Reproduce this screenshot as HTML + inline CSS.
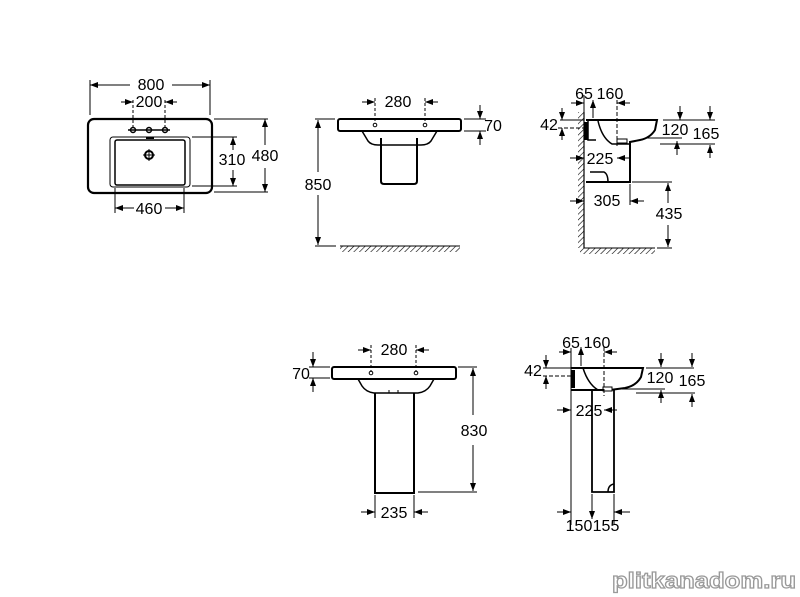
<!DOCTYPE html>
<html><head><meta charset="utf-8"><style>
html,body{margin:0;padding:0;background:#fff;}
svg{display:block;}
text{font-family:"Liberation Sans",Arial,sans-serif;font-size:16px;fill:#000;}
</style></head><body>
<svg width="800" height="597" viewBox="0 0 800 597" xmlns="http://www.w3.org/2000/svg">
<defs>
<marker id="a" markerWidth="8" markerHeight="6" refX="8" refY="3" orient="auto" markerUnits="userSpaceOnUse"><path d="M0,0 L8,3 L0,6 z" fill="#000"/></marker>
<pattern id="h" width="4" height="4" patternUnits="userSpaceOnUse" patternTransform="rotate(45)"><line x1="0" y1="0" x2="0" y2="4" stroke="#000" stroke-width="1.2"/></pattern>
</defs>
<g stroke="#000" fill="none" stroke-width="1">
<!-- TOP LEFT: plan view -->
<rect x="88" y="119" width="124" height="74" rx="6" stroke-width="2.2"/>
<rect x="110" y="137" width="80" height="50" rx="3" stroke-width="1"/>
<rect x="115" y="140" width="70" height="45" rx="2" stroke-width="1.5"/>
<line x1="146" y1="138" x2="154" y2="138" stroke-width="2"/>
<circle cx="149" cy="155" r="4" stroke-width="2"/><line x1="143" y1="155" x2="155" y2="155"/><line x1="149" y1="149" x2="149" y2="161"/>
<g stroke-width="1.5"><circle cx="133" cy="130" r="2.5"/><circle cx="149" cy="130" r="2.5"/><circle cx="165" cy="130" r="2.5"/>
<line x1="128" y1="130" x2="170" y2="130"/></g>
<line x1="90" y1="80" x2="90" y2="115"/><line x1="210" y1="80" x2="210" y2="115"/>
<line x1="130" y1="85" x2="90" y2="85" marker-end="url(#a)"/><line x1="172" y1="85" x2="210" y2="85" marker-end="url(#a)"/>
<line x1="133" y1="100" x2="133" y2="127" stroke-dasharray="3,2"/><line x1="165" y1="100" x2="165" y2="127" stroke-dasharray="3,2"/>
<line x1="121" y1="102" x2="133" y2="102" marker-end="url(#a)"/><line x1="177" y1="102" x2="165" y2="102" marker-end="url(#a)"/>
<line x1="192" y1="137" x2="237" y2="137"/><line x1="192" y1="186" x2="237" y2="186"/>
<line x1="233" y1="150" x2="233" y2="137" marker-end="url(#a)"/><line x1="233" y1="170" x2="233" y2="186" marker-end="url(#a)"/>
<line x1="214" y1="119" x2="268" y2="119"/><line x1="214" y1="192" x2="268" y2="192"/>
<line x1="265" y1="145" x2="265" y2="119" marker-end="url(#a)"/><line x1="265" y1="168" x2="265" y2="192" marker-end="url(#a)"/>
<line x1="115" y1="188" x2="115" y2="213"/><line x1="184" y1="188" x2="184" y2="213"/>
<line x1="134" y1="208" x2="115" y2="208" marker-end="url(#a)"/><line x1="165" y1="208" x2="184" y2="208" marker-end="url(#a)"/>

<!-- TOP MIDDLE -->
<rect x="338" y="119" width="123" height="12" rx="2" stroke-width="2"/>
<path d="M362,131 L368,141 Q371,145 378,145 L421,145 Q428,145 431,141 L437,131" stroke-width="1.5"/>
<path d="M381,138 L381,181 Q381,184 384,184 L414,184 Q417,184 417,181 L417,138" stroke-width="2"/>
<circle cx="375" cy="125" r="1.8"/><circle cx="425" cy="125" r="1.8"/>
<line x1="375" y1="98" x2="375" y2="122" stroke-dasharray="3,2"/><line x1="425" y1="98" x2="425" y2="122" stroke-dasharray="3,2"/>
<line x1="362" y1="102" x2="375" y2="102" marker-end="url(#a)"/><line x1="438" y1="102" x2="425" y2="102" marker-end="url(#a)"/>
<line x1="315" y1="119" x2="335" y2="119"/><line x1="315" y1="246" x2="336" y2="246"/>
<line x1="318" y1="172" x2="318" y2="120" marker-end="url(#a)"/><line x1="318" y1="195" x2="318" y2="245" marker-end="url(#a)"/>
<rect x="340" y="246" width="120" height="6" fill="url(#h)" stroke="none"/><line x1="340" y1="246" x2="460" y2="246"/>
<line x1="464" y1="119" x2="486" y2="119"/><line x1="464" y1="131" x2="486" y2="131"/>
<line x1="480" y1="105" x2="480" y2="119" marker-end="url(#a)"/><line x1="480" y1="145" x2="480" y2="131" marker-end="url(#a)"/>

<!-- TOP RIGHT -->
<rect x="578" y="112" width="6" height="136" fill="url(#h)" stroke="none"/>
<line x1="584" y1="112" x2="584" y2="248" stroke-width="1.2"/>
<rect x="580" y="248" width="75" height="6" fill="url(#h)" stroke="none"/><line x1="584" y1="248" x2="655" y2="248"/>
<path d="M586,120 L657,120 L655,130 Q650,138 640,140 L630,142 L630,182 L586,182" stroke-width="2"/>
<path d="M598,121 Q602,138 612,144 L630,144" stroke-width="1.5"/>
<path d="M590,172 L604,172 Q608,174 608,182" stroke-width="1.5"/>
<path d="M588,120 L588,140 L596,140" stroke-width="1.5"/>
<rect x="584" y="122" width="4" height="18" fill="#000" stroke="none"/>
<rect x="617" y="139" width="10" height="4" fill="#fff" stroke-width="1"/>
<line x1="584" y1="95" x2="584" y2="112"/><line x1="571" y1="103" x2="584" y2="103" marker-end="url(#a)"/>
<line x1="593" y1="100" x2="593" y2="118"/><line x1="593" y1="110" x2="593" y2="100" marker-end="url(#a)"/>
<line x1="617" y1="100" x2="617" y2="148" stroke-dasharray="4,2"/><line x1="630" y1="103" x2="617" y2="103" marker-end="url(#a)"/>
<line x1="560" y1="120" x2="584" y2="120"/><line x1="558" y1="128" x2="584" y2="128" stroke-dasharray="4,2"/>
<line x1="562" y1="108" x2="562" y2="120" marker-end="url(#a)"/><line x1="562" y1="140" x2="562" y2="128" marker-end="url(#a)"/>
<line x1="663" y1="120" x2="715" y2="120"/>
<line x1="680" y1="106" x2="680" y2="120" marker-end="url(#a)"/><line x1="710" y1="106" x2="710" y2="120" marker-end="url(#a)"/>
<line x1="645" y1="138" x2="682" y2="138"/><line x1="660" y1="144" x2="715" y2="144"/>
<line x1="677" y1="155" x2="677" y2="141" marker-end="url(#a)"/><line x1="710" y1="158" x2="710" y2="145" marker-end="url(#a)"/>
<line x1="570" y1="158" x2="584" y2="158" marker-end="url(#a)"/><line x1="630" y1="158" x2="617" y2="158" marker-end="url(#a)"/>
<line x1="570" y1="201" x2="584" y2="201" marker-end="url(#a)"/>
<line x1="630" y1="184" x2="630" y2="205"/><line x1="644" y1="201" x2="630" y2="201" marker-end="url(#a)"/>
<line x1="632" y1="182" x2="672" y2="182"/><line x1="657" y1="248" x2="672" y2="248"/>
<line x1="668" y1="203" x2="668" y2="183" marker-end="url(#a)"/><line x1="668" y1="225" x2="668" y2="247" marker-end="url(#a)"/>

<!-- BOTTOM MIDDLE -->
<rect x="332" y="367" width="124" height="12" rx="2" stroke-width="2"/>
<path d="M358,379 L362,386 Q366,392 374,393 L418,393 Q426,392 430,386 L434,379" stroke-width="1.5"/>
<path d="M375,393 L375,493 L414,493 L414,393" stroke-width="2"/>
<path d="M389,390 L389,393 M398,390 L398,393" stroke-width="1"/>
<circle cx="371" cy="373" r="1.8"/><circle cx="416" cy="373" r="1.8"/>
<line x1="371" y1="345" x2="371" y2="371" stroke-dasharray="3,2"/><line x1="416" y1="345" x2="416" y2="371" stroke-dasharray="3,2"/>
<line x1="358" y1="350" x2="371" y2="350" marker-end="url(#a)"/><line x1="429" y1="350" x2="416" y2="350" marker-end="url(#a)"/>
<line x1="309" y1="367" x2="330" y2="367"/><line x1="309" y1="378" x2="330" y2="378"/>
<line x1="313" y1="352" x2="313" y2="367" marker-end="url(#a)"/><line x1="313" y1="392" x2="313" y2="378" marker-end="url(#a)"/>
<line x1="458" y1="367" x2="477" y2="367"/><line x1="418" y1="492" x2="477" y2="492"/>
<line x1="473" y1="415" x2="473" y2="368" marker-end="url(#a)"/><line x1="473" y1="445" x2="473" y2="491" marker-end="url(#a)"/>
<line x1="375" y1="495" x2="375" y2="518"/><line x1="414" y1="495" x2="414" y2="518"/>
<line x1="361" y1="512" x2="375" y2="512" marker-end="url(#a)"/><line x1="428" y1="512" x2="414" y2="512" marker-end="url(#a)"/>

<!-- BOTTOM RIGHT -->
<path d="M571,368 L643,368 L641,377 Q636,386 625,388 L610,390 L571,390" stroke-width="2"/>
<path d="M583,368 Q588,384 598,390" stroke-width="1.5"/>
<rect x="571" y="370" width="4" height="18" fill="#000" stroke="none"/>
<rect x="603" y="387" width="9" height="4" fill="#fff"/>
<path d="M592,390 L592,492 L614,492 L614,390" stroke-width="1.8"/>
<path d="M608,492 Q608,485 614,484" stroke-width="1.5"/>
<line x1="571" y1="348" x2="571" y2="525"/>
<line x1="559" y1="352" x2="571" y2="352" marker-end="url(#a)"/>
<line x1="581" y1="347" x2="581" y2="366"/><line x1="581" y1="358" x2="581" y2="347" marker-end="url(#a)"/>
<line x1="604" y1="347" x2="604" y2="396" stroke-dasharray="4,2"/><line x1="617" y1="352" x2="604" y2="352" marker-end="url(#a)"/>
<line x1="543" y1="368" x2="571" y2="368"/><line x1="543" y1="376" x2="571" y2="376" stroke-dasharray="4,2"/>
<line x1="546" y1="355" x2="546" y2="368" marker-end="url(#a)"/><line x1="546" y1="389" x2="546" y2="376" marker-end="url(#a)"/>
<line x1="646" y1="368" x2="694" y2="368"/>
<line x1="661" y1="353" x2="661" y2="367" marker-end="url(#a)"/><line x1="692" y1="353" x2="692" y2="367" marker-end="url(#a)"/>
<line x1="622" y1="389" x2="665" y2="389"/><line x1="636" y1="393" x2="695" y2="393"/>
<line x1="661" y1="403" x2="661" y2="390" marker-end="url(#a)"/><line x1="692" y1="407" x2="692" y2="394" marker-end="url(#a)"/>
<line x1="557" y1="410" x2="571" y2="410" marker-end="url(#a)"/><line x1="617" y1="410" x2="604" y2="410" marker-end="url(#a)"/>
<line x1="592" y1="494" x2="592" y2="519" marker-end="url(#a)"/><line x1="614" y1="494" x2="614" y2="525"/>
<line x1="557" y1="512" x2="571" y2="512" marker-end="url(#a)"/><line x1="630" y1="512" x2="614" y2="512" marker-end="url(#a)"/>
</g>
<g text-anchor="middle">
<text x="151" y="90">800</text>
<text x="149" y="107">200</text>
<text x="232" y="165">310</text>
<text x="265" y="161">480</text>
<text x="149" y="214">460</text>
<text x="398" y="107">280</text>
<text x="318" y="190">850</text>
<text x="493" y="131">70</text>
<text x="584" y="99">65</text>
<text x="610" y="99">160</text>
<text x="549" y="130">42</text>
<text x="675" y="135">120</text>
<text x="706" y="139">165</text>
<text x="600" y="164">225</text>
<text x="607" y="206">305</text>
<text x="669" y="219">435</text>
<text x="394" y="355">280</text>
<text x="301" y="379">70</text>
<text x="474" y="436">830</text>
<text x="394" y="518">235</text>
<text x="571" y="348">65</text>
<text x="597" y="348">160</text>
<text x="533" y="376">42</text>
<text x="660" y="383">120</text>
<text x="692" y="386">165</text>
<text x="589" y="416">225</text>
<text x="579" y="531">150</text>
<text x="606" y="531">155</text>
</g>
<text x="612" y="588" textLength="184" lengthAdjust="spacingAndGlyphs" style="font-size:22px;font-weight:bold;fill:#fff;stroke:#999;stroke-width:1.2">plitkanadom.ru</text>
</svg>
</body></html>
